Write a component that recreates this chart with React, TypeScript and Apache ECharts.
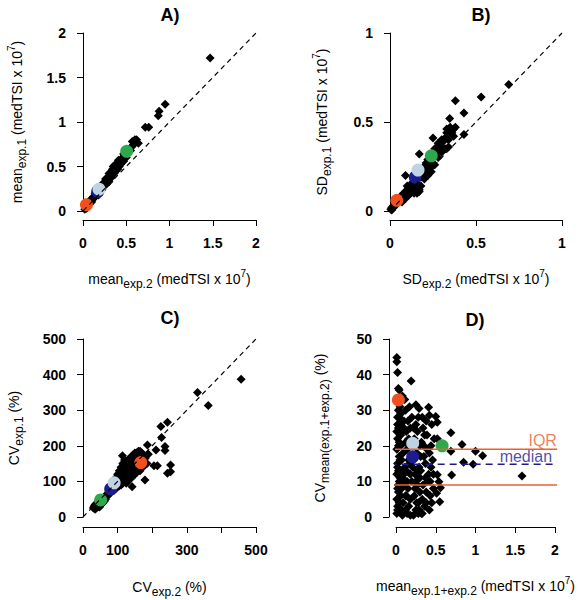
import React, { useEffect, useRef } from 'react';
import * as echarts from 'echarts';

const FONT = 'Liberation Sans, Arial, sans-serif';

// Panel A: mean exp.2 (x) vs mean exp.1 (y)
const aPoints: number[][] = [
  [0.02, 0.02], [0.03, 0.04], [0.04, 0.03], [0.05, 0.06], [0.06, 0.07], [0.07, 0.08], [0.08, 0.09], [0.09, 0.11],
  [0.1, 0.12], [0.11, 0.13], [0.12, 0.14], [0.12, 0.16], [0.13, 0.15], [0.14, 0.17], [0.15, 0.18], [0.15, 0.2],
  [0.16, 0.19], [0.17, 0.21], [0.18, 0.22], [0.19, 0.23], [0.2, 0.25], [0.21, 0.26], [0.22, 0.27], [0.23, 0.29],
  [0.24, 0.3], [0.25, 0.31], [0.25, 0.33], [0.26, 0.32], [0.27, 0.34], [0.28, 0.35], [0.28, 0.37], [0.29, 0.36],
  [0.3, 0.38], [0.31, 0.4], [0.32, 0.39], [0.32, 0.42], [0.33, 0.41], [0.34, 0.43], [0.35, 0.45], [0.35, 0.42],
  [0.36, 0.47], [0.37, 0.46], [0.38, 0.49], [0.39, 0.5], [0.4, 0.52], [0.41, 0.51], [0.42, 0.55], [0.43, 0.56],
  [0.44, 0.58], [0.45, 0.57], [0.46, 0.6], [0.48, 0.62], [0.5, 0.63], [0.52, 0.66], [0.54, 0.7], [0.56, 0.72],
  [0.57, 0.78], [0.6, 0.77], [0.62, 0.8], [0.64, 0.76], [0.35, 0.5], [0.3, 0.35], [0.38, 0.45], [0.42, 0.5],
  [0.3, 0.33], [0.33, 0.38], [0.36, 0.42], [0.4, 0.47], [0.44, 0.53], [0.27, 0.3], [0.22, 0.24], [0.18, 0.18],
  [0.26, 0.36], [0.3, 0.42], [0.34, 0.47], [0.37, 0.52], [0.41, 0.57], [0.47, 0.64], [0.5, 0.6], [0.53, 0.67],
  [0.55, 0.68], [0.58, 0.74], [0.6, 0.8], [0.47, 0.56], [0.1, 0.1], [0.08, 0.12], [0.05, 0.04], [0.14, 0.2], [0.2, 0.28],
  [0.72, 0.94], [0.76, 0.94], [0.87, 1.07], [0.88, 1.12], [0.95, 1.2], [1.47, 1.72],
];
const aOrange = [[0.04, 0.07]];
const aDarkBlue = [[0.17, 0.22]];
const aLightBlue = [[0.185, 0.245]];
const aGreen = [[0.505, 0.67]];

// Panel B: SD exp.2 (x) vs SD exp.1 (y)
const bPoints: number[][] = [
  [0.005, 0.01], [0.01, 0.005], [0.01, 0.02], [0.02, 0.02], [0.02, 0.03], [0.03, 0.03], [0.03, 0.04], [0.04, 0.04],
  [0.05, 0.05], [0.05, 0.07], [0.06, 0.06], [0.06, 0.08], [0.07, 0.07], [0.07, 0.09], [0.08, 0.08], [0.08, 0.1],
  [0.09, 0.09], [0.09, 0.11], [0.1, 0.1], [0.1, 0.12], [0.11, 0.11], [0.11, 0.13], [0.12, 0.12], [0.12, 0.14],
  [0.13, 0.13], [0.13, 0.15], [0.14, 0.14], [0.14, 0.12], [0.15, 0.16], [0.15, 0.13], [0.16, 0.12], [0.17, 0.12],
  [0.16, 0.18], [0.17, 0.2], [0.18, 0.19], [0.18, 0.22], [0.19, 0.21], [0.19, 0.24], [0.2, 0.22], [0.2, 0.25],
  [0.21, 0.24], [0.21, 0.27], [0.22, 0.26], [0.22, 0.29], [0.23, 0.27], [0.24, 0.28], [0.25, 0.3], [0.26, 0.32],
  [0.26, 0.35], [0.27, 0.33], [0.28, 0.36], [0.28, 0.38], [0.29, 0.37], [0.3, 0.4], [0.3, 0.36], [0.31, 0.39],
  [0.32, 0.41], [0.33, 0.44], [0.33, 0.46], [0.34, 0.36], [0.35, 0.44], [0.35, 0.47], [0.37, 0.42], [0.37, 0.46],
  [0.347, 0.52], [0.38, 0.62], [0.43, 0.55], [0.43, 0.43], [0.53, 0.64], [0.69, 0.71], [0.25, 0.41], [0.17, 0.32],
  [0.244, 0.25], [0.13, 0.16], [0.1, 0.14], [0.15, 0.2], [0.09, 0.2], [0.157, 0.1], [0.17, 0.11],
  [0.12, 0.1], [0.14, 0.1], [0.15, 0.11], [0.18, 0.14], [0.2, 0.18], [0.22, 0.2], [0.24, 0.22], [0.26, 0.26],
  [0.28, 0.3], [0.3, 0.33], [0.32, 0.35], [0.34, 0.4], [0.36, 0.44], [0.38, 0.47], [0.07, 0.05], [0.09, 0.07], [0.11, 0.09],
];
const bOrange = [[0.04, 0.06]];
const bDarkBlue = [[0.147, 0.19]];
const bLightBlue = [[0.163, 0.23]];
const bGreen = [[0.24, 0.31]];

// Panel C: CV exp.2 (x) vs CV exp.1 (y)
const cPoints: number[][] = [
  [30, 25], [32, 30], [35, 28], [35, 35], [38, 32], [40, 38], [40, 27], [42, 30], [45, 35], [45, 42], [48, 38],
  [50, 40], [52, 45], [55, 42], [55, 50], [58, 48], [60, 55], [62, 52], [65, 58], [68, 62], [70, 65], [72, 60],
  [75, 70], [78, 72], [80, 75], [85, 82], [88, 85], [92, 90], [95, 95], [98, 92], [100, 100], [102, 105], [105, 98],
  [108, 110], [110, 105], [112, 115], [115, 112], [115, 120], [118, 118], [120, 125], [120, 110], [122, 130],
  [125, 122], [125, 135], [128, 128], [130, 140], [130, 118], [132, 132], [135, 145], [135, 125], [138, 138],
  [140, 150], [140, 130], [142, 142], [145, 155], [145, 135], [148, 148], [150, 160], [150, 140], [152, 152],
  [155, 165], [155, 145], [158, 158], [160, 170], [160, 150], [162, 162], [165, 175], [165, 140], [170, 160],
  [175, 155], [178, 145], [180, 165], [185, 150], [114, 172], [189, 176], [142, 85], [179, 104], [211, 188],
  [237, 198], [237, 187], [186, 202], [215, 144], [205, 144], [253, 146], [244, 123], [253, 127], [227, 223],
  [225, 254], [244, 266], [331, 350], [362, 313], [457, 387], [150, 180], [140, 110], [130, 100], [125, 95], [160, 130],
  [95, 110], [100, 120], [105, 130], [110, 140], [115, 150], [120, 160], [110, 125], [118, 140], [125, 150], [130, 160],
  [135, 165], [140, 170], [145, 175], [150, 170], [155, 180], [160, 185], [165, 185], [170, 180], [175, 175], [170, 140],
  [165, 130], [155, 125], [150, 120], [145, 115], [140, 120], [135, 115], [130, 110], [125, 105], [120, 100], [115, 95],
  [110, 90], [105, 88], [100, 85], [95, 80], [90, 75], [85, 72], [45, 30], [50, 32], [55, 38], [60, 45], [65, 50],
  [42, 40], [38, 25], [48, 28], [35, 22], [58, 40], [62, 45],
];
const cOrange = [[167, 153]];
const cDarkBlue = [[80, 79]];
const cLightBlue = [[90, 96]];
const cGreen = [[51, 48]];

// Panel D: mean exp.1+exp.2 (x) vs CV of mean (y)
const dPoints: number[][] = [
  [0.01, 1], [0.02, 3], [0.01, 5], [0.03, 7], [0.02, 8], [0.04, 10], [0.01, 12], [0.03, 13], [0.02, 15], [0.04, 17],
  [0.01, 19], [0.03, 20], [0.02, 22], [0.05, 23], [0.01, 24], [0.03, 25], [0.02, 26], [0.04, 28], [0.03, 30],
  [0.05, 31], [0.04, 35.7], [0.03, 36.1], [0.02, 40.6], [0.01, 43.6], [0.01, 44.8],
  [0.07, 2], [0.09, 4], [0.06, 6], [0.1, 9], [0.08, 11], [0.11, 14], [0.07, 16], [0.09, 18], [0.12, 21], [0.08, 24],
  [0.1, 27], [0.06, 29], [0.11, 33], [0.08, 34], [0.06, 20], [0.1, 12],
  [0.14, 1], [0.16, 3], [0.18, 5], [0.15, 8], [0.2, 10], [0.13, 13], [0.17, 15], [0.19, 17], [0.14, 19], [0.16, 22],
  [0.18, 25], [0.15, 27], [0.2, 28], [0.17, 31], [0.19, 38.2], [0.13, 6], [0.18, 12],
  [0.22, 0.5], [0.25, 2], [0.28, 4], [0.23, 6], [0.27, 9], [0.3, 11], [0.24, 12], [0.29, 14], [0.22, 16], [0.26, 18],
  [0.3, 20], [0.23, 22], [0.27, 24], [0.25, 26], [0.25, 31.5], [0.29, 30.5], [0.24, 8], [0.28, 1],
  [0.32, 1], [0.36, 3], [0.33, 5], [0.38, 7], [0.34, 9], [0.4, 10], [0.31, 13], [0.37, 15], [0.35, 17], [0.39, 19],
  [0.32, 21], [0.36, 23], [0.34, 25], [0.38, 27], [0.33, 28],
  [0.42, 2], [0.45, 4], [0.43, 6], [0.47, 8], [0.41, 12], [0.44, 14], [0.46, 16], [0.42, 18], [0.48, 22], [0.45, 26],
  [0.42, 28.6], [0.41, 30.8],
  [0.02, 2], [0.04, 4], [0.03, 9], [0.05, 11], [0.02, 14], [0.05, 16], [0.04, 21], [0.05, 26], [0.02, 28], [0.04, 33],
  [0.07, 8], [0.09, 13], [0.06, 23], [0.1, 25], [0.12, 30], [0.12, 6], [0.14, 10], [0.16, 16], [0.19, 20], [0.13, 24],
  [0.21, 14], [0.26, 4], [0.27, 13], [0.22, 25], [0.28, 28], [0.3, 7], [0.31, 17], [0.37, 11], [0.35, 20], [0.39, 23],
  [0.43, 10], [0.44, 20], [0.47, 12], [0.29, 2], [0.33, 1], [0.18, 0.5], [0.08, 0.5], [0.38, 4], [0.25, 10], [0.12, 2],
  [0.5, 28.2], [0.52, 26.6], [0.52, 22], [0.51, 6.7], [0.55, 4.3], [0.52, 11.9], [0.54, 9.9], [0.56, 8.2],
  [0.69, 23.7], [0.69, 18.5], [0.7, 11.8], [0.83, 20.4], [0.85, 15.4], [0.97, 14.8], [1.0, 18.5], [1.09, 17.2],
  [1.585, 11.5],
];
const dOrange = [[0.03, 32.9]];
const dDarkBlue = [[0.21, 16.9]];
const dLightBlue = [[0.21, 20.7]];
const dGreen = [[0.58, 20.0]];
const iqrLow = 9.0;
const iqrHigh = 19.0;
const medianValue = 14.8;

const C_ORANGE = '#F0501E';
const C_LINE_ORANGE = '#EC6030';
const C_GREEN = '#2EA84A';
const C_LIGHTBLUE = '#C0D3E3';
const C_DARKBLUE = '#1C1C8E';

const rich = {
  m: { fontSize: 14, fontFamily: FONT, color: '#000' },
  s: { fontSize: 12, fontFamily: FONT, color: '#000', padding: [11, 0, 0, 0] },
  p: { fontSize: 10, fontFamily: FONT, color: '#000', padding: [0, 0, 10, 0] },
};

function xAxis(grid: number, min: number, max: number, interval: number, offset: number, name: string, nameGap: number, fmt?: (v: number) => string) {
  return {
    type: 'value', gridIndex: grid, min, max, interval, offset, position: 'bottom',
    name, nameLocation: 'middle', nameGap,
    nameTextStyle: { rich, fontFamily: FONT, fontSize: 14, color: '#000' },
    axisLine: { show: true, onZero: false, lineStyle: { color: '#000', width: 1 } },
    axisTick: { show: true, length: 6, lineStyle: { color: '#000', width: 1 } },
    axisLabel: { color: '#000', fontWeight: 'bold', fontSize: 14, fontFamily: FONT, margin: 16, formatter: fmt },
    splitLine: { show: false },
  };
}
function yAxis(grid: number, min: number, max: number, interval: number, offset: number, name: string, nameGap: number) {
  return {
    type: 'value', gridIndex: grid, min, max, interval, offset, position: 'left',
    name, nameLocation: 'middle', nameGap, nameRotate: 90,
    nameTextStyle: { rich, fontFamily: FONT, fontSize: 14, color: '#000' },
    axisLine: { show: true, onZero: false, lineStyle: { color: '#000', width: 1 } },
    axisTick: { show: true, length: 6, lineStyle: { color: '#000', width: 1 } },
    axisLabel: { color: '#000', fontWeight: 'bold', fontSize: 14, fontFamily: FONT, margin: 17 },
    splitLine: { show: false },
  };
}

function dot(i: number, data: number[][], color: string) {
  return { xAxisIndex: i, yAxisIndex: i, silent: true, type: 'scatter', data, symbol: 'circle', symbolSize: 13, clip: false, itemStyle: { color, opacity: 1 } };
}
function diamonds(i: number, data: number[][]) {
  return { xAxisIndex: i, yAxisIndex: i, silent: true, type: 'scatter', data, symbol: 'diamond', symbolSize: 9, clip: false, itemStyle: { color: '#000', opacity: 1 } };
}

function panelSeries(i: number, pts: number[][], orange: number[][], dark: number[][], light: number[][], green: number[][], diag: number) {
  return [
    { xAxisIndex: i, yAxisIndex: i, silent: true, type: 'line', data: [[0, 0], [diag, diag]], symbol: 'none', clip: false,
      lineStyle: { color: '#000', width: 1.2, type: [5, 4] } },
    diamonds(i, pts),
    dot(i, dark, C_DARKBLUE),
    dot(i, light, C_LIGHTBLUE),
    dot(i, orange, C_ORANGE),
    dot(i, green, C_GREEN),
  ];
}

export default function App() {
  const ref = useRef<HTMLDivElement>(null);
  useEffect(() => {
    if (!ref.current) return;
    const chart = echarts.init(ref.current, null, { renderer: 'svg' });
    const unit = '{m| (medTSI x 10}{p|7}{m|)}';
    const dBase = { xAxisIndex: 3, yAxisIndex: 3, silent: true };
    const option: any = {
      animation: false,
      backgroundColor: '#fff',
      textStyle: { fontFamily: FONT },
      grid: [
        { left: 83, top: 33, width: 173, height: 178 },
        { left: 390, top: 33, width: 172, height: 178 },
        { left: 83, top: 339, width: 173, height: 178 },
        { left: 396, top: 339, width: 159, height: 178 },
      ],
      xAxis: [
        xAxis(0, 0, 2, 0.5, 9, '{m|mean}{s|exp.2}' + unit, 47),
        xAxis(1, 0, 1, 0.5, 9, '{m|SD}{s|exp.2}' + unit, 47),
        xAxis(2, 0, 500, 100, 10, '{m|CV}{s|exp.2}{m| (%)}', 48, (v: number) => (v === 200 || v === 400 ? '' : String(v))),
        xAxis(3, 0, 2, 0.5, 10, '{m|mean}{s|exp.1+exp.2}' + unit, 47),
      ],
      yAxis: [
        yAxis(0, 0, 2, 0.5, 0, '{m|mean}{s|exp.1}' + unit, 55),
        yAxis(1, 0, 1, 0.5, 0, '{m|SD}{s|exp.1}' + unit, 57),
        yAxis(2, 0, 500, 100, 0, '{m|CV}{s|exp.1}{m| (%)}', 58),
        yAxis(3, 0, 50, 10, 7, '{m|CV}{s|mean(exp.1+exp.2)}{m| (%)}', 58),
      ],
      graphic: [
        { type: 'text', x: 170, y: 15, style: { text: 'A)', font: 'bold 18px ' + FONT, fill: '#000', align: 'center', verticalAlign: 'middle' } },
        { type: 'text', x: 481, y: 15, style: { text: 'B)', font: 'bold 18px ' + FONT, fill: '#000', align: 'center', verticalAlign: 'middle' } },
        { type: 'text', x: 170, y: 318, style: { text: 'C)', font: 'bold 18px ' + FONT, fill: '#000', align: 'center', verticalAlign: 'middle' } },
        { type: 'text', x: 475, y: 320, style: { text: 'D)', font: 'bold 18px ' + FONT, fill: '#000', align: 'center', verticalAlign: 'middle' } },
      ],
      series: [
        ...panelSeries(0, aPoints, aOrange, aDarkBlue, aLightBlue, aGreen, 2),
        ...panelSeries(1, bPoints, bOrange, bDarkBlue, bLightBlue, bGreen, 1),
        ...panelSeries(2, cPoints, cOrange, cDarkBlue, cLightBlue, cGreen, 500),
        diamonds(3, dPoints),
        { ...dBase, type: 'line', data: [[-0.08, iqrHigh], [2.09, iqrHigh]], symbol: 'none', clip: false, lineStyle: { color: C_LINE_ORANGE, width: 1.5 } },
        { ...dBase, type: 'line', data: [[-0.08, iqrLow], [2.09, iqrLow]], symbol: 'none', clip: false, lineStyle: { color: C_LINE_ORANGE, width: 1.5 } },
        { ...dBase, type: 'line', data: [[-0.08, medianValue], [2.09, medianValue]], symbol: 'none', clip: false, lineStyle: { color: C_DARKBLUE, width: 1.5, type: [7, 5] } },
        dot(3, dDarkBlue, C_DARKBLUE),
        dot(3, dLightBlue, C_LIGHTBLUE),
        dot(3, dOrange, C_ORANGE),
        dot(3, dGreen, C_GREEN),
        { ...dBase, type: 'scatter', data: [[2.03, iqrHigh]], symbolSize: 1, clip: false, itemStyle: { color: 'transparent' },
          label: { show: true, formatter: 'IQR', position: 'left', distance: 0, align: 'right', verticalAlign: 'bottom', offset: [0, -1],
            color: C_LINE_ORANGE, fontSize: 16, fontFamily: FONT } },
        { ...dBase, type: 'scatter', data: [[1.97, medianValue]], symbolSize: 1, clip: false, itemStyle: { color: 'transparent' },
          label: { show: true, formatter: 'median', position: 'left', distance: 0, align: 'right', verticalAlign: 'bottom', offset: [0, 0],
            color: C_DARKBLUE, fontSize: 16, fontFamily: FONT } },
      ],
    };
    chart.setOption(option);
    return () => chart.dispose();
  }, []);
  return <div ref={ref} style={{ position: 'absolute', left: 0, top: 0, width: 587, height: 600, background: '#fff' }} />;
}
